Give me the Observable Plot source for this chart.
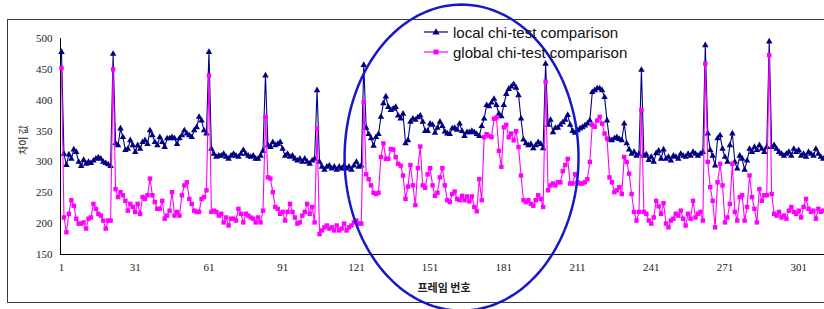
<!DOCTYPE html>
<html><head><meta charset="utf-8">
<script src="https://cdn.jsdelivr.net/npm/d3@7"></script>
<script src="https://cdn.jsdelivr.net/npm/@observablehq/plot@0.6"></script>
<style>
body{margin:0;background:#fff;}
#wrap{position:relative;width:824px;height:309px;overflow:hidden;background:#fff;}
#border{position:absolute;left:7px;top:19px;width:900px;height:284px;border:1.5px solid #3a3a3a;box-sizing:border-box;}
#chart{position:absolute;left:0;top:0;}
.leg{position:absolute;left:424px;height:20px;display:flex;align-items:center;font-family:"Liberation Sans",Arial,sans-serif;font-size:15px;color:#111;white-space:nowrap;}
.leg svg{margin-right:5px;}
#ylab{position:absolute;left:22px;top:140px;transform:translate(-50%,-50%) rotate(-90deg);font-family:"Noto Sans CJK KR",sans-serif;font-size:10px;color:#222;white-space:nowrap;}
#xlab{position:absolute;left:444px;top:287px;transform:translate(-50%,-50%);font-family:"Noto Sans CJK KR",sans-serif;font-size:11px;font-weight:bold;color:#222;white-space:nowrap;}
</style></head>
<body>
<div id="wrap">
  <div id="border"></div>
  <div id="chart"></div>
  <div class="leg" style="top:22px"><svg width="24" height="12"><line x1="0" y1="6" x2="24" y2="6" stroke="#000080" stroke-width="1.2"/><path d="M12,2.2 L15.6,8.6 L8.4,8.6 Z" fill="#000080"/></svg><span>local chi-test comparison</span></div>
  <div class="leg" style="top:42px"><svg width="24" height="12"><line x1="0" y1="6" x2="24" y2="6" stroke="#ff00ff" stroke-width="1.2"/><rect x="9.5" y="3.5" width="5" height="5" fill="#ff00ff"/></svg><span>global chi-test comparison</span></div>
  <div id="ylab">차이 값</div>
  <div id="xlab">프레임 번호</div>
</div>
<script>
const xTicks = [1, 31, 61, 91, 121, 151, 181, 211, 241, 271, 301];
const yTicks = [150, 200, 250, 300, 350, 400, 450, 500];

const localChi = [
  478,313,295,312,305,320,316,300,293,303,297,300,298,302,305,307,305,300,298,296,293,
  475,
  330,327,354,340,319,321,335,327,316,327,321,332,335,329,351,343,332,327,340,332,324,338,338,340,338,329,338,343,351,346,343,340,351,356,373,367,351,346,
  478,
  321,313,308,310,310,313,308,305,310,313,310,308,313,319,313,310,308,310,305,305,310,318,
  440,
  327,324,332,327,329,332,321,310,313,308,310,305,302,305,300,305,300,297,302,305,
  416,
  300,292,287,292,294,289,292,287,292,289,294,289,292,287,294,300,292,294,
  457,
  355,345,338,326,340,345,373,395,406,389,384,386,389,375,370,378,330,335,365,370,
  368,372,375,365,350,350,362,360,347,355,365,358,349,346,345,354,355,352,362,350,
  342,348,348,350,348,345,342,358,370,392,390,396,402,392,378,
  374,392,410,418,422,426,420,408,370,336,330,327,329,322,327,332,329,322,
  459,
  360,368,348,355,355,360,364,368,376,360,350,347,351,354,356,359,362,367,413,416,
  419,419,416,405,367,336,335,338,340,337,335,362,330,320,313,316,310,313,
  449,
  310,312,303,308,300,314,318,305,320,305,308,302,310,308,305,313,310,308,313,310,316,313,310,313,316,
  489,
  346,319,310,294,338,343,321,308,300,327,346,300,289,310,305,287,302,321,316,324,319,327,321,316,324,
  495,
  324,327,321,316,313,310,313,316,310,321,316,319,310,313,308,316,313,310,321,313,308,305
];

const globalChi = [
  452,210,186,216,238,229,208,200,200,202,192,208,210,232,224,216,213,205,192,205,205,
  450,
  256,243,251,246,237,221,232,227,219,232,216,243,240,246,273,246,235,224,224,237,208,213,221,251,213,219,213,246,262,267,240,232,221,219,219,240,243,254,
  440,
  219,221,219,213,216,202,210,197,208,208,205,224,216,202,216,213,210,208,202,210,202,221,
  373,
  275,273,251,227,224,216,219,205,219,232,219,210,200,202,213,219,232,216,227,202,
  354,
  183,189,194,197,192,194,189,197,189,192,200,189,194,197,202,205,200,200,
  397,
  280,272,262,250,248,250,308,330,305,305,321,320,308,297,294,278,240,260,295,262,
  230,290,325,262,258,280,290,262,245,250,275,290,262,238,235,248,252,240,238,245,
  238,244,236,244,227,220,272,238,340,345,342,340,370,372,318,
  292,356,360,340,346,335,350,324,278,238,235,238,232,229,238,246,240,227,
  430,
  254,262,265,262,267,267,285,295,305,265,265,280,267,265,265,267,272,300,360,357,
  367,373,362,346,338,275,267,251,254,259,248,308,300,281,248,219,205,219,
  384,
  219,216,205,200,210,237,228,216,233,200,194,205,208,216,213,221,208,197,216,208,237,210,216,219,205,
  459,
  300,259,237,194,267,297,262,202,210,232,297,219,205,243,246,205,227,278,243,224,202,256,237,246,246,
  473,
  248,216,213,219,210,213,208,221,227,219,216,221,210,227,240,224,219,221,208,224,219,221
];

// highlight ellipse annotation (data units: centre frame/value, radii)
const ellipseCenter = [163.8, 307];
const ellipseRadii = [47.6, 248];

const data = localChi.map((v, i) => ({frame: i + 1, local: v, global: globalChi[i]}));
const ellipsePts = d3.range(0, 361, 2).map(a => {
  const t = a * Math.PI / 180;
  return {frame: ellipseCenter[0] + ellipseRadii[0] * Math.cos(t), value: ellipseCenter[1] + ellipseRadii[1] * Math.sin(t)};
});

const xDomain = [0.593, 311.5];
const chart = Plot.plot({
  width: 824, height: 309,
  marginLeft: 60, marginRight: 0, marginTop: 38, marginBottom: 55,
  x: {domain: xDomain},
  y: {domain: [150, 500]},
  style: {background: "transparent", fontFamily: "'Liberation Serif', 'Times New Roman', serif", fontSize: "11px", color: "#222"},
  marks: [
    Plot.axisY({ticks: yTicks, tickSize: 0, tickPadding: 8, label: null}),
    Plot.axisX({ticks: xTicks, tickSize: 0, tickPadding: 9, label: null}),
    Plot.ruleX([xDomain[0]], {stroke: "#000", strokeWidth: 1}),
    Plot.ruleY([150], {stroke: "#000", strokeWidth: 1}),
    Plot.line(data, {x: "frame", y: "local", stroke: "#000080", strokeWidth: 1.1}),
    Plot.dot(data, {x: "frame", y: "local", symbol: "triangle2", fill: "#000080", r: 3.1}),
    Plot.line(data, {x: "frame", y: "global", stroke: "#ff00ff", strokeWidth: 1.1}),
    Plot.dot(data, {x: "frame", y: "global", symbol: "square", fill: "#ff00ff", r: 2.5}),
    Plot.line(ellipsePts, {x: "frame", y: "value", stroke: "#1818c8", strokeWidth: 2.5, clip: false})
  ]
});
document.getElementById("chart").appendChild(chart);
</script>
</body></html>
